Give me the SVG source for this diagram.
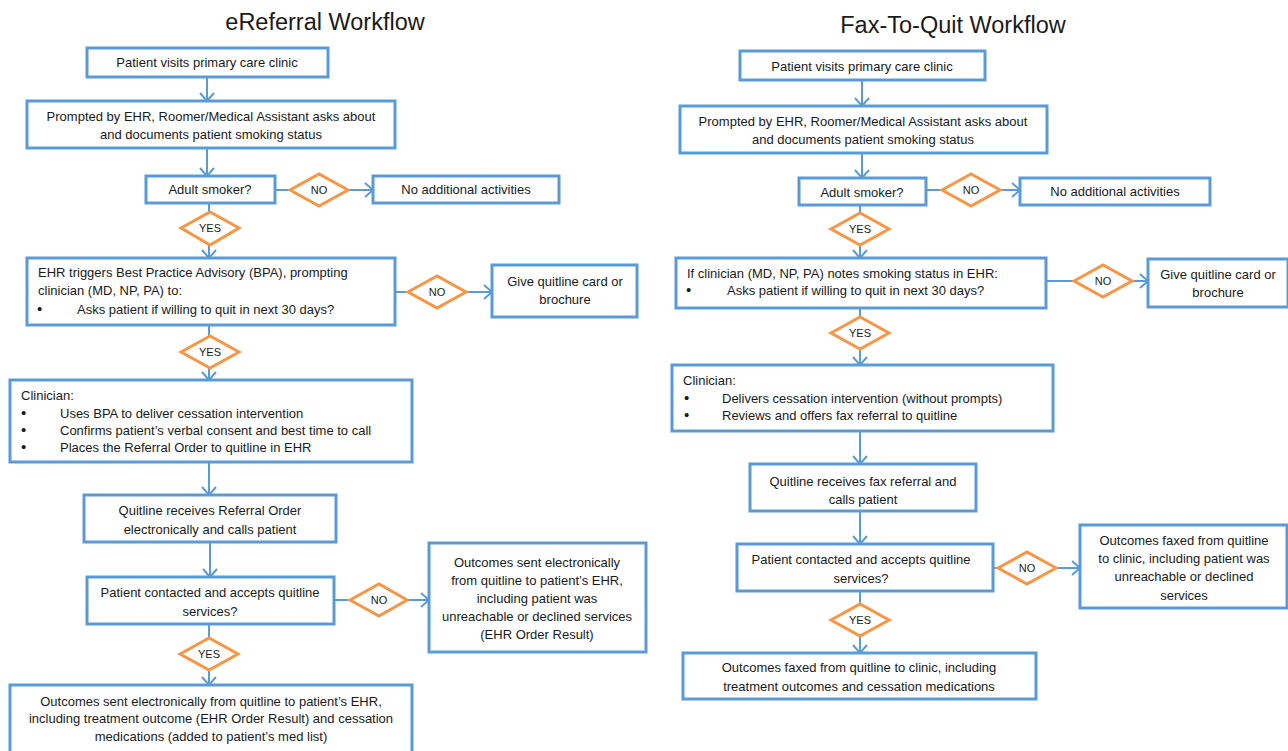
<svg xmlns="http://www.w3.org/2000/svg" width="1288" height="751" viewBox="0 0 1288 751">
<style>
.box{fill:#fff;stroke:#5B9BD5;stroke-width:3}
.dia{fill:#fff;stroke:#F79646;stroke-width:3}
.t{font-family:"Liberation Sans",Arial,sans-serif;font-size:13px;fill:#1a1a1a}
.c{text-anchor:middle}
.b{font-size:15px}
.d{font-family:"Liberation Sans",Arial,sans-serif;font-size:11px;fill:#1a1a1a;text-anchor:middle}
.title{font-family:"Liberation Sans",Arial,sans-serif;font-size:23.5px;fill:#1a1a1a;text-anchor:middle}
.ln{fill:none;stroke:#5B9BD5;stroke-width:2}
</style>
<defs>
<marker id="arr" viewBox="-10 -9 12 18" refX="0" refY="0" markerWidth="12" markerHeight="18" markerUnits="userSpaceOnUse" orient="auto">
<path d="M-8,-7 L0,0 L-8,7" fill="none" stroke="#5B9BD5" stroke-width="2"/>
</marker>
</defs>
<rect width="1288" height="751" fill="#fff"/>
<text class="title" x="325" y="30">eReferral Workflow</text>
<text class="title" x="953" y="33">Fax-To-Quit Workflow</text>

<g id="connectors">
<path class="ln" d="M207,77V101" marker-end="url(#arr)"/>
<path class="ln" d="M207,148V176" marker-end="url(#arr)"/>
<path class="ln" d="M275,190H290"/>
<path class="ln" d="M348,190H373" marker-end="url(#arr)"/>
<path class="ln" d="M209,203V212"/>
<path class="ln" d="M209,245V258" marker-end="url(#arr)"/>
<path class="ln" d="M395,292H408"/>
<path class="ln" d="M466,292H492" marker-end="url(#arr)"/>
<path class="ln" d="M209,325V336"/>
<path class="ln" d="M209,368V380" marker-end="url(#arr)"/>
<path class="ln" d="M209,462V495" marker-end="url(#arr)"/>
<path class="ln" d="M210,542V577" marker-end="url(#arr)"/>
<path class="ln" d="M334,600H350"/>
<path class="ln" d="M407,600H429" marker-end="url(#arr)"/>
<path class="ln" d="M209,624V638"/>
<path class="ln" d="M209,670V685" marker-end="url(#arr)"/>

<path class="ln" d="M862,80V106" marker-end="url(#arr)"/>
<path class="ln" d="M862,153V178" marker-end="url(#arr)"/>
<path class="ln" d="M926,190H942"/>
<path class="ln" d="M1000,190H1020" marker-end="url(#arr)"/>
<path class="ln" d="M860,205V213"/>
<path class="ln" d="M860,245V258" marker-end="url(#arr)"/>
<path class="ln" d="M1046,281H1074"/>
<path class="ln" d="M1132,281H1148" marker-end="url(#arr)"/>
<path class="ln" d="M860,308V317"/>
<path class="ln" d="M860,349V365" marker-end="url(#arr)"/>
<path class="ln" d="M860,431V464" marker-end="url(#arr)"/>
<path class="ln" d="M860,511V544" marker-end="url(#arr)"/>
<path class="ln" d="M993,568H998"/>
<path class="ln" d="M1056,568H1080" marker-end="url(#arr)"/>
<path class="ln" d="M860,591V604"/>
<path class="ln" d="M860,636V653" marker-end="url(#arr)"/>
</g>

<!-- Left workflow -->
<g id="L1"><rect class="box" x="87" y="48" width="241" height="29"/><text class="t c" x="207" y="67">Patient visits primary care clinic</text></g>
<g id="L2"><rect class="box" x="27" y="101" width="368" height="47"/><text class="t c" x="211" y="120.5">Prompted by EHR, Roomer/Medical Assistant asks about</text><text class="t c" x="211" y="138.5">and documents patient smoking status</text></g>
<g id="L3"><rect class="box" x="146" y="176" width="129" height="27"/><text class="t c" x="210" y="194">Adult smoker?</text></g>
<g id="LD1"><polygon class="dia" points="290,190 319,174 348,190 319,206"/><text class="d" x="319" y="194">NO</text></g>
<g id="L3n"><rect class="box" x="373" y="176" width="186" height="27"/><text class="t c" x="466" y="194">No additional activities</text></g>
<g id="LD2"><polygon class="dia" points="181,228 210,212 239,228 210,245"/><text class="d" x="210" y="232">YES</text></g>
<g id="L4"><rect class="box" x="27" y="258" width="368" height="67"/><text class="t" x="38" y="276.5">EHR triggers Best Practice Advisory (BPA), prompting</text><text class="t" x="38" y="294.5">clinician (MD, NP, PA) to:</text><text class="t b" x="37" y="314">•</text><text class="t" x="77" y="313.5">Asks patient if willing to quit in next 30 days?</text></g>
<g id="LD3"><polygon class="dia" points="408,292 437,276 466,292 437,308"/><text class="d" x="437" y="296">NO</text></g>
<g id="L4n"><rect class="box" x="492" y="265" width="145" height="52"/><text class="t c" x="565" y="285.5">Give quitline  card or</text><text class="t c" x="565" y="303.5">brochure</text></g>
<g id="LD4"><polygon class="dia" points="181,352 210,336 239,352 210,368"/><text class="d" x="210" y="356">YES</text></g>
<g id="L5"><rect class="box" x="10" y="380" width="402" height="82"/><text class="t" x="21" y="399.5">Clinician:</text><text class="t b" x="21" y="418">•</text><text class="t" x="60" y="417.5">Uses BPA to deliver cessation intervention</text><text class="t b" x="21" y="435">•</text><text class="t" x="60" y="434.5">Confirms patient’s verbal consent and best time to call</text><text class="t b" x="21" y="452">•</text><text class="t" x="60" y="451.5">Places the Referral Order to quitline in EHR</text></g>
<g id="L6"><rect class="box" x="84" y="495" width="252" height="47"/><text class="t c" x="210" y="514.5">Quitline receives Referral Order</text><text class="t c" x="210" y="533.5">electronically and calls patient</text></g>
<g id="L7"><rect class="box" x="87" y="577" width="247" height="47"/><text class="t c" x="210" y="596.5">Patient contacted and accepts quitline</text><text class="t c" x="210" y="615.5">services?</text></g>
<g id="LD5"><polygon class="dia" points="350,600 379,584 407,600 379,616"/><text class="d" x="379" y="604">NO</text></g>
<g id="L7n"><rect class="box" x="429" y="543" width="217" height="109"/><text class="t c" x="537" y="566.5">Outcomes sent electronically</text><text class="t c" x="537" y="584.5">from quitline to patient’s EHR,</text><text class="t c" x="537" y="602.5">including patient was</text><text class="t c" x="537" y="620.5">unreachable or declined services</text><text class="t c" x="537" y="638.5">(EHR Order Result)</text></g>
<g id="LD6"><polygon class="dia" points="180,654 209,638 238,654 209,670"/><text class="d" x="209" y="658">YES</text></g>
<g id="L8"><rect class="box" x="10" y="685" width="402" height="72"/><text class="t c" x="211" y="705.5">Outcomes sent electronically from quitline to patient’s EHR,</text><text class="t c" x="211" y="722.5">including treatment outcome (EHR Order Result) and cessation</text><text class="t c" x="211" y="740.5">medications (added to patient’s med list)</text></g>

<!-- Right workflow -->
<g id="R1"><rect class="box" x="740" y="51" width="245" height="29"/><text class="t c" x="862" y="70.5">Patient visits primary care clinic</text></g>
<g id="R2"><rect class="box" x="680" y="106" width="367" height="47"/><text class="t c" x="863" y="125.5">Prompted by EHR, Roomer/Medical Assistant asks about</text><text class="t c" x="863" y="143.5">and documents patient smoking status</text></g>
<g id="R3"><rect class="box" x="799" y="178" width="127" height="27"/><text class="t c" x="862" y="196.5">Adult smoker?</text></g>
<g id="RD1"><polygon class="dia" points="942,190 971,174 1000,190 971,206"/><text class="d" x="971" y="194">NO</text></g>
<g id="R3n"><rect class="box" x="1020" y="178" width="190" height="27"/><text class="t c" x="1115" y="196">No additional activities</text></g>
<g id="RD2"><polygon class="dia" points="831,229 860,213 889,229 860,245"/><text class="d" x="860" y="233">YES</text></g>
<g id="R4"><rect class="box" x="676" y="258" width="370" height="50"/><text class="t" x="687" y="277.5">If clinician (MD, NP, PA) notes smoking status in EHR:</text><text class="t b" x="686" y="295">•</text><text class="t" x="727" y="294.5">Asks patient if willing to quit in next 30 days?</text></g>
<g id="RD3"><polygon class="dia" points="1074,281 1103,265 1132,281 1103,297"/><text class="d" x="1103" y="285">NO</text></g>
<g id="R4n"><rect class="box" x="1148" y="259" width="140" height="48"/><text class="t c" x="1218" y="278.5">Give quitline card or</text><text class="t c" x="1218" y="297">brochure</text></g>
<g id="RD4"><polygon class="dia" points="831,333 860,317 889,333 860,349"/><text class="d" x="860" y="337">YES</text></g>
<g id="R5"><rect class="box" x="672" y="365" width="381" height="66"/><text class="t" x="683" y="384.5">Clinician:</text><text class="t b" x="684" y="403">•</text><text class="t" x="722" y="402.5">Delivers cessation intervention (without prompts)</text><text class="t b" x="684" y="420">•</text><text class="t" x="722" y="419.5">Reviews and offers fax referral to quitline</text></g>
<g id="R6"><rect class="box" x="750" y="464" width="226" height="47"/><text class="t c" x="863" y="485.5">Quitline receives fax referral and</text><text class="t c" x="863" y="503.5">calls patient</text></g>
<g id="R7"><rect class="box" x="737" y="544" width="256" height="47"/><text class="t c" x="861" y="563.5">Patient contacted and accepts quitline</text><text class="t c" x="861" y="582.5">services?</text></g>
<g id="RD5"><polygon class="dia" points="998,568 1027,552 1056,568 1027,584"/><text class="d" x="1027" y="572">NO</text></g>
<g id="R7n"><rect class="box" x="1080" y="525" width="207" height="83"/><text class="t c" x="1184" y="544.5">Outcomes faxed from quitline</text><text class="t c" x="1184" y="562.5">to clinic, including patient was</text><text class="t c" x="1184" y="580.5">unreachable or declined</text><text class="t c" x="1184" y="599.5">services</text></g>
<g id="RD6"><polygon class="dia" points="831,620 860,604 889,620 860,636"/><text class="d" x="860" y="624">YES</text></g>
<g id="R8"><rect class="box" x="683" y="653" width="353" height="46"/><text class="t c" x="859" y="671.5">Outcomes faxed from quitline to clinic, including</text><text class="t c" x="859" y="690.5">treatment outcomes and cessation medications</text></g>
</svg>
